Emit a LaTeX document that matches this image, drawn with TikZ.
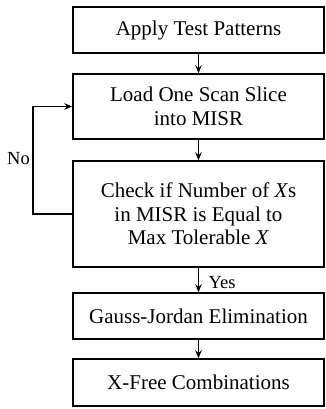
\documentclass[tikz,border=0pt]{standalone}
\usepackage{fontspec}
\setmainfont{Liberation Serif}
\usetikzlibrary{arrows.meta}
\begin{document}
\begin{tikzpicture}[x=1pt,y=1pt,
  box/.style={draw,line width=1.4pt,minimum width=251pt,inner sep=0pt,align=center,font=\fontsize{21}{23.5}\selectfont},
  arr/.style={line width=1.4pt,-{Stealth[length=8pt,width=6.5pt]}},
  lbl/.style={font=\fontsize{18.5}{21}\selectfont,inner sep=0pt}]
\useasboundingbox (0,0) rectangle (325,409);
\node[box,minimum height=46pt] (b1) at (198.5,379) {Apply Test Patterns};
\node[box,minimum height=65pt] (b2) at (198.5,302.5) {Load One Scan Slice\\into MISR};
\node[box,minimum height=106pt] (b3) at (198.5,195) {Check if Number of \textit{X}s\\in MISR is Equal to\\Max Tolerable \textit{X}};
\node[box,minimum height=46pt] (b4) at (198.5,93) {Gauss-Jordan Elimination};
\node[box,minimum height=47pt] (b5) at (198.5,26.5) {X-Free Combinations};
\draw[arr] (b1) -- (b2);
\draw[arr] (b2) -- (b3);
\draw[arr] (b3) -- (b4);
\draw[arr] (b4) -- (b5);
\coordinate (lp) at (33,195);
\draw[arr] (b3.west) -- (lp) |- (b2.west);
\node[lbl] (no) at (18.5,250) {No};
\node[lbl] (yes) at (222,126) {Yes};
\end{tikzpicture}
\end{document}
